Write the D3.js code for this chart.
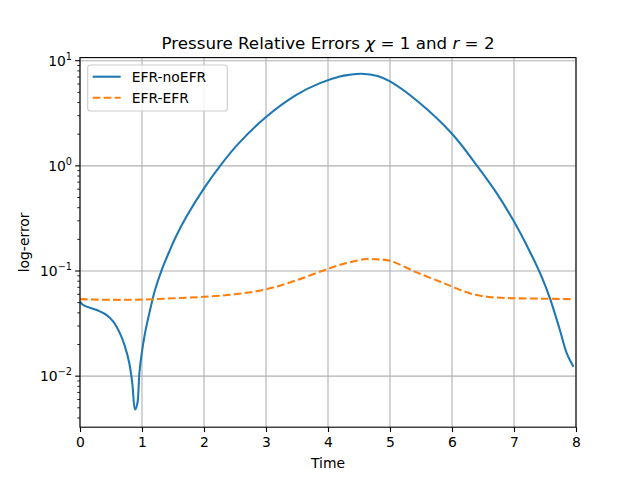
<!DOCTYPE html>
<html><head><meta charset="utf-8">
<script src="https://cdn.jsdelivr.net/npm/d3@7/dist/d3.min.js"></script>
<style>body{margin:0;background:#fff}svg{display:block;font-family:"DejaVu Sans",sans-serif}</style>
</head><body>
<svg id="c" width="640" height="480"></svg>
<script>
const tBlue = [0,0.054,0.27,0.43,0.54,0.645,0.726,0.796,0.844,0.887,0.925,0.957,0.995,1.048,1.13,1.21,1.317,1.45,1.55,1.72,2.005,2.26,2.53,3.01,3.49,3.87,4.19,4.35,4.54,4.8,5.0,5.45,6.0,6.42,6.72,7.0,7.26,7.45,7.58,7.74,7.85,7.96];
const vBlue = [0.0511,0.0474,0.0426,0.0381,0.0329,0.0255,0.0191,0.0132,0.0085,0.00482,0.0055,0.0106,0.0164,0.0255,0.0426,0.0659,0.102,0.158,0.214,0.331,0.617,1.0,1.567,2.95,4.74,6.12,7.08,7.35,7.52,7.16,6.35,4.09,2.02,0.973,0.550,0.295,0.151,0.0871,0.0550,0.0275,0.0166,0.0123];
const tOrange = [0,0.5,1.0,1.5,2.0,2.5,3.0,3.5,4.0,4.3,4.62,4.8,5.0,5.43,5.8,6.0,6.2,6.4,6.6,6.8,7.0,7.5,7.96];
const vOrange = [0.054,0.0532,0.0535,0.055,0.0568,0.060,0.067,0.082,0.105,0.119,0.13,0.129,0.125,0.097,0.0794,0.0713,0.0638,0.059,0.0566,0.0556,0.055,0.0545,0.054];
const xTicks = [0,1,2,3,4,5,6,7,8];
const yTickExp = [-2,-1,0,1];
const seriesNames = ["EFR-noEFR","EFR-EFR"];
const colors = ["#1f77b4","#ff7f0e"];

const L=80,R=576,T=57.6,B=427.2;
const svg=d3.select("#c");
const x=d3.scaleLinear().domain([0,8]).range([L,R]);
const y=d3.scaleLog().domain([0.00327,10.7]).range([B,T]);

// grid
const g=svg.append("g");
xTicks.forEach(v=>g.append("line").attr("x1",x(v)).attr("x2",x(v)).attr("y1",T).attr("y2",B).attr("stroke","#b0b0b0").attr("stroke-width",1.1));
yTickExp.forEach(e=>g.append("line").attr("x1",L).attr("x2",R).attr("y1",y(Math.pow(10,e))).attr("y2",y(Math.pow(10,e))).attr("stroke","#b0b0b0").attr("stroke-width",1.1));

// clip
svg.append("clipPath").attr("id","clip").append("rect").attr("x",L).attr("y",T).attr("width",R-L).attr("height",B-T);

const line=d3.line().x(d=>x(d[0])).y(d=>y(d[1])).curve(d3.curveCatmullRom.alpha(0.5));
const blue=tBlue.map((t,i)=>[t,vBlue[i]]);
const orange=tOrange.map((t,i)=>[t,vOrange[i]]);
svg.append("path").attr("clip-path","url(#clip)").attr("d",line(blue)).attr("fill","none").attr("stroke",colors[0]).attr("stroke-width",2.08).attr("stroke-linejoin","round").attr("stroke-linecap","butt");
svg.append("path").attr("clip-path","url(#clip)").attr("d",line(orange)).attr("fill","none").attr("stroke",colors[1]).attr("stroke-width",2.08).attr("stroke-dasharray","7.7,3.3");

// axes
const xAxis=d3.axisBottom(x).tickValues(xTicks).tickSize(4.86).tickPadding(4.9).tickFormat(d3.format("d"));
const xg=svg.append("g").attr("transform",`translate(0,${B})`).call(xAxis);
xg.select(".domain").remove();
xg.selectAll("line").attr("stroke","#000").attr("stroke-width",1.1);
xg.selectAll("text").attr("font-size","13.9px").attr("font-family","DejaVu Sans").attr("fill","#000");

// y minor ticks
const minor=[];
for(let e=-3;e<=1;e++)for(let m=2;m<=9;m++){const v=m*Math.pow(10,e);if(v>=0.00327&&v<=10.7)minor.push(v);}
const yg=svg.append("g");
minor.forEach(v=>yg.append("line").attr("x1",L-2.78).attr("x2",L).attr("y1",y(v)).attr("y2",y(v)).attr("stroke","#000").attr("stroke-width",0.83));
yTickExp.forEach(e=>{
  const yy=y(Math.pow(10,e));
  yg.append("line").attr("x1",L-4.86).attr("x2",L).attr("y1",yy).attr("y2",yy).attr("stroke","#000").attr("stroke-width",1.1);
  const tx=yg.append("text").attr("x",L-8).attr("y",yy+5).attr("text-anchor","end").attr("font-size","13.9px").attr("fill","#000");
  tx.append("tspan").text("10");
  tx.append("tspan").attr("dy",-6).attr("font-size","9.7px").text(e<0?"\u2212"+(-e):String(e));
});

// spines
svg.append("rect").attr("x",L).attr("y",T).attr("width",R-L).attr("height",B-T).attr("fill","none").attr("stroke","#000").attr("stroke-width",1.1);

// labels
svg.append("text").attr("x",(L+R)/2).attr("y",468).attr("text-anchor","middle").attr("font-size","13.9px").text("Time");
svg.append("text").attr("transform",`translate(29,${(T+B)/2}) rotate(-90)`).attr("text-anchor","middle").attr("font-size","13.9px").text("log-error");
const title=svg.append("text").attr("x",(L+R)/2).attr("y",49).attr("text-anchor","middle").attr("font-size","16.7px");
title.append("tspan").text("Pressure Relative Errors ");
title.append("tspan").attr("font-style","italic").text("\u03c7");
title.append("tspan").text(" = 1 and ");
title.append("tspan").attr("font-style","italic").text("r");
title.append("tspan").text(" = 2");

// legend
const lg=svg.append("g");
lg.append("rect").attr("x",87.7).attr("y",65).attr("width",139.6).attr("height",46).attr("rx",2.8).attr("fill","#fff").attr("fill-opacity",0.8).attr("stroke","#cccccc").attr("stroke-width",1.1);
seriesNames.forEach((n,i)=>{
  const yy=76.7+i*21;
  lg.append("line").attr("x1",92.7).attr("x2",120.7).attr("y1",yy).attr("y2",yy).attr("stroke",colors[i]).attr("stroke-width",2.08).attr("stroke-dasharray",i===1?"7.7,3.3":null);
  lg.append("text").attr("x",131.7).attr("y",yy+5).attr("font-size","13.9px").text(n);
});
</script>
</body></html>
